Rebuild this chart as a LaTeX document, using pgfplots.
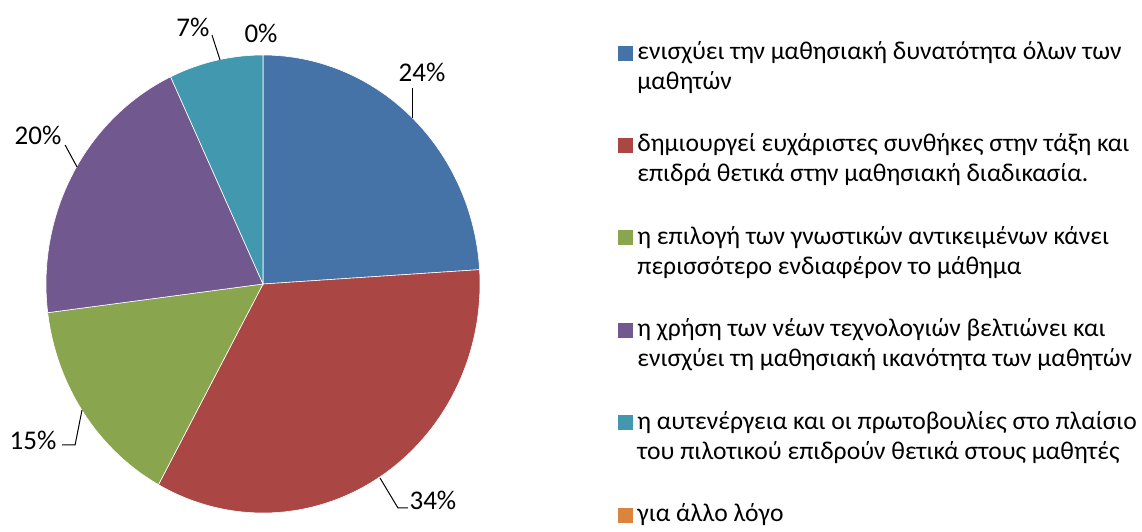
\documentclass[border=0pt]{standalone}
\usepackage{fontspec}
\setmainfont{Carlito}
\usepackage{pgfplots}
\pgfplotsset{compat=1.18}
\definecolor{pblue}{HTML}{4572A7}
\definecolor{pred}{HTML}{AA4643}
\definecolor{pgreen}{HTML}{89A54E}
\definecolor{ppurple}{HTML}{71588F}
\definecolor{pteal}{HTML}{4198AF}
\definecolor{porange}{HTML}{DB843D}
\newcommand\two[2]{\vtop{\hbox{#1}\hbox{#2}}}
\begin{document}
\begin{tikzpicture}
\useasboundingbox (0,0) rectangle (571pt,265.5pt);
% shares in percent
\def\sA{24}\def\sB{34}\def\sC{15}\def\sD{20}\def\sE{7}\def\sF{0}
\pgfmathsetmacro\aA{90}
\pgfmathsetmacro\aB{\aA-3.6*\sA}
\pgfmathsetmacro\aC{\aB-3.6*\sB}
\pgfmathsetmacro\aD{\aC-3.6*\sC}
\pgfmathsetmacro\aE{\aD-3.6*\sD}
\pgfmathsetmacro\aF{\aE-3.6*\sE}
\begin{axis}[
  at={(131.5pt,123.5pt)}, anchor=center,
  scale only axis, width=217pt, height=229pt,
  xmin=-1, xmax=1, ymin=-1, ymax=1,
  hide axis, clip=false,
  font=\fontsize{13.5}{16}\selectfont,
  legend image code/.code={\fill[#1,draw=none] (0pt,-0.5pt) rectangle (7.5pt,7pt);},
  legend cell align=left,
  legend style={draw=none, fill=none, at={(1.318,1.039)}, anchor=north west,
    inner sep=0pt, row sep=31.7pt,
    cells={anchor=base west, inner xsep=1.1pt, inner ysep=0pt},
    font=\fontsize{12.8}{15}\selectfont},
]
\addplot[fill=pblue, draw=white, line width=0.3pt, domain=\aB:\aA, samples=120, variable=\t]
  ({cos(t)},{sin(t)}) -- (0,0) -- cycle;
\addlegendentry{\two{ενισχύει την μαθησιακή δυνατότητα όλων των}{μαθητών}}
\addplot[fill=pred, draw=white, line width=0.3pt, domain=\aC:\aB, samples=160, variable=\t]
  ({cos(t)},{sin(t)}) -- (0,0) -- cycle;
\addlegendentry{\two{δημιουργεί ευχάριστες συνθήκες στην τάξη και}{επιδρά θετικά στην μαθησιακή διαδικασία.}}
\addplot[fill=pgreen, draw=white, line width=0.3pt, domain=\aD:\aC, samples=80, variable=\t]
  ({cos(t)},{sin(t)}) -- (0,0) -- cycle;
\addlegendentry{\two{η επιλογή των γνωστικών αντικειμένων κάνει}{περισσότερο ενδιαφέρον το μάθημα}}
\addplot[fill=ppurple, draw=white, line width=0.3pt, domain=\aE:\aD, samples=100, variable=\t]
  ({cos(t)},{sin(t)}) -- (0,0) -- cycle;
\addlegendentry{\two{η χρήση των νέων τεχνολογιών βελτιώνει και}{ενισχύει τη μαθησιακή ικανότητα των μαθητών}}
\addplot[fill=pteal, draw=white, line width=0.3pt, domain=\aF:\aE, samples=40, variable=\t]
  ({cos(t)},{sin(t)}) -- (0,0) -- cycle;
\addlegendentry{\two{η αυτενέργεια και οι πρωτοβουλίες στο πλαίσιο}{του πιλοτικού επιδρούν θετικά στους μαθητές}}
\addlegendimage{fill=porange}
\addlegendentry{για άλλο λόγο}
% data labels with leader lines
\draw[line width=0.5pt] (axis cs:0.691,0.856) -- (axis cs:0.691,0.725);
\node at (axis cs:0.733,0.926) {24\%};
\draw[line width=0.5pt] (axis cs:0.539,-0.847) -- (axis cs:0.622,-0.978) -- (axis cs:0.668,-0.978);
\node at (axis cs:0.783,-0.943) {34\%};
\draw[line width=0.5pt] (axis cs:-0.834,-0.550) -- (axis cs:-0.866,-0.703) -- (axis cs:-0.926,-0.703);
\node at (axis cs:-1.060,-0.681) {15\%};
\draw[line width=0.5pt] (axis cs:-0.912,0.607) -- (axis cs:-0.857,0.511);
\node at (axis cs:-1.037,0.651) {20\%};
\draw[line width=0.5pt] (axis cs:-0.235,1.087) -- (axis cs:-0.198,0.978);
\node at (axis cs:-0.323,1.122) {7\%};
\node at (axis cs:-0.009,1.096) {0\%};
\end{axis}
\end{tikzpicture}
\end{document}
